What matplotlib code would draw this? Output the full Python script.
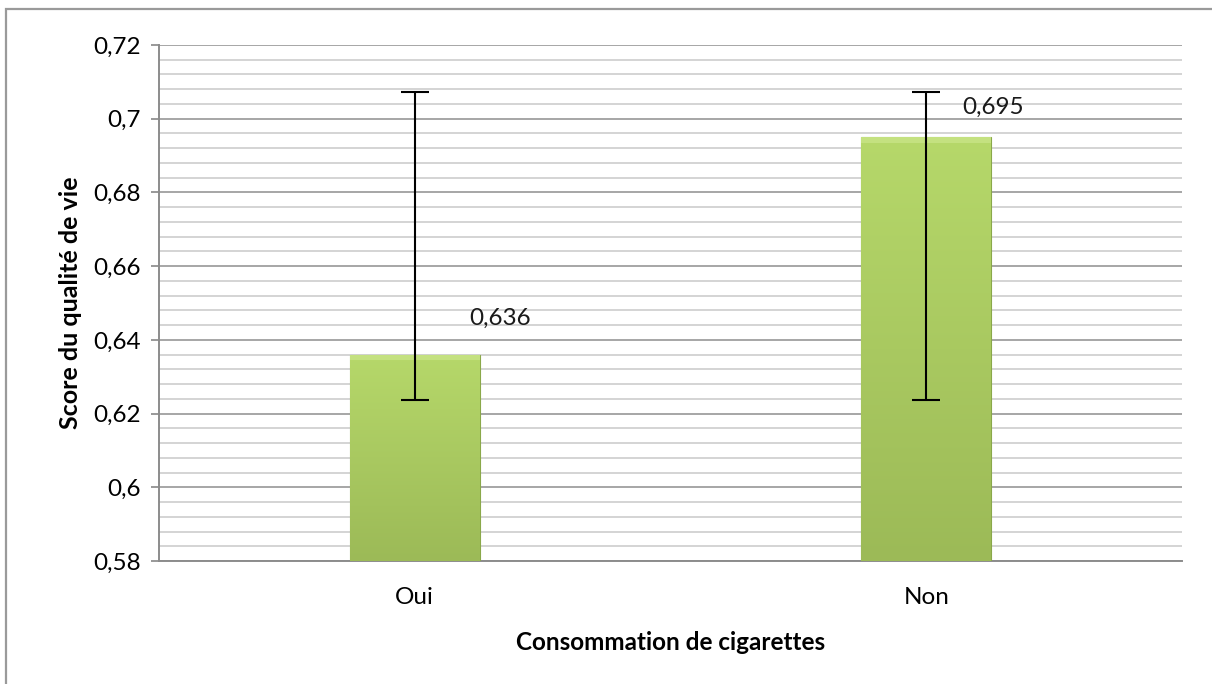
import matplotlib.pyplot as plt
import numpy as np
from matplotlib.patches import Rectangle
from matplotlib.ticker import MultipleLocator, FuncFormatter
from matplotlib.colors import LinearSegmentedColormap

# donnees
categories = ["Oui", "Non"]
scores = [0.636, 0.695]
err_bas = [0.0123, 0.0713]
err_haut = [0.0712, 0.0122]
labels = ["0,636", "0,695"]

plt.rcParams['font.family'] = ['Lato', 'DejaVu Sans']
fs = 17.5

fig = plt.figure(figsize=(12.12, 6.84), dpi=100)
ax = fig.add_axes([159/1212, 1-561/684, (1182-159)/1212, (561-45)/684])

# cadre exterieur (coupe a droite et en bas)
fig.patches.append(Rectangle((6/1212, -0.1), 1.2, (684-9)/684 + 0.1,
                             transform=fig.transFigure, fill=False,
                             edgecolor='#9a9a9a', linewidth=1.6))

x = np.arange(len(categories))
bars = ax.bar(x, scores, width=0.254, bottom=0, color='#a8c95e',
              edgecolor='#8aa84a', linewidth=0.8, zorder=3)

# degrade vertical dans les barres
grad = np.linspace(0, 1, 256).reshape(-1, 1)
cmap = LinearSegmentedColormap.from_list('vert', ['#b6d86a', '#9cba57'])
for b in bars:
    x0, w, h = b.get_x(), b.get_width(), b.get_height()
    im = ax.imshow(grad, extent=[x0, x0 + w, 0.58, h], origin='upper',
                   cmap=cmap, aspect='auto', zorder=3.1)
    im.set_clip_path(b)
    # biseau en haut
    ax.add_patch(Rectangle((x0, h - 0.0016), w, 0.0016, facecolor='#c4e180',
                           edgecolor='none', zorder=3.2))

ax.errorbar(x, scores, yerr=[err_bas, err_haut], fmt='none', ecolor='black',
            elinewidth=1.5, capsize=10, capthick=1.5, zorder=4)

# decalage des etiquettes (pixels)
decalages = [(55, 26), (36, 19)]
for xi, yi, lab, d in zip(x, scores, labels, decalages):
    ax.annotate(lab, (xi, yi), xytext=d, textcoords='offset pixels',
                fontsize=fs, ha='left', va='bottom', color='#1a1a1a')

ax.set_xlim(-0.5, 1.5)
ax.set_ylim(0.58, 0.72)
ax.yaxis.set_major_locator(MultipleLocator(0.02))
ax.yaxis.set_minor_locator(MultipleLocator(0.004))
ax.yaxis.set_major_formatter(FuncFormatter(lambda v, p: ('%g' % round(v, 3)).replace('.', ',')))
ax.grid(which='major', axis='y', color='#a6a6a6', linewidth=1.4, zorder=0)
ax.grid(which='minor', axis='y', color='#d4d4d4', linewidth=1.4, zorder=0)
ax.set_axisbelow(True)

ax.set_xticks(x)
ax.set_xticklabels(categories)
ax.tick_params(axis='x', length=0, pad=19, labelsize=fs)
ax.tick_params(axis='y', which='major', length=6, width=1.2, color='#888888',
               labelsize=fs, pad=7)
ax.tick_params(axis='y', which='minor', length=0)

for s in ['top', 'right']:
    ax.spines[s].set_visible(False)
for s in ['left', 'bottom']:
    ax.spines[s].set_color('#8c8c8c')
    ax.spines[s].set_linewidth(1.4)

ax.set_xlabel('Consommation de cigarettes', fontsize=fs, fontweight='bold', labelpad=16)
ax.set_ylabel('Score du qualité de vie', fontsize=fs + 0.5, fontweight='bold', labelpad=8)

fig.savefig('out.png', dpi=100)
